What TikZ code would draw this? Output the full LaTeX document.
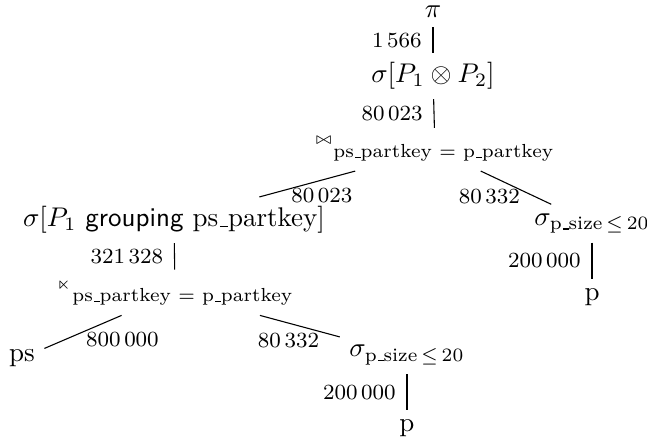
\documentclass[tikz,border=0pt]{standalone}
\usepackage{amsmath,amssymb}
\usepackage{tikz}
\usetikzlibrary{positioning,calc}
\newcommand{\usc}{\kern.06em\vbox{\hrule width.3em}}
\tikzset{
    opnode/.style={inner sep=.3333em},
    treeedge/.style={thin, color=black},
    card/.style={font=\footnotesize, inner sep=1pt},
}

\begin{document}
\begin{tikzpicture}[x=0.37pt, y=-0.37pt]
    \useasboundingbox (0,0) rectangle (647,442);
    % Nodes
    \node[opnode] (proj) at (433,12) {$\pi$};
    \node[opnode] (selP) at (433,76) {$\sigma[P_1 \otimes P_2]$};
    \node[opnode] (join) at (435,149.5) {${}^{\scriptscriptstyle\bowtie}{}_{\text{ps\usc partkey = p\usc partkey}}$};
    \node[opnode] (group) at (174,220) {$\sigma[P_1\ \textsf{grouping}\ \text{ps\usc partkey}]$};
    \node[opnode] (selR) at (592,223.5) {$\sigma_{\text{p\usc size}\,\leq\,20}$};
    \node[opnode] (partR) at (592,297) {p};
    \node[opnode] (semi) at (175,292.5) {${}^{\scriptscriptstyle\ltimes}{}_{\text{ps\usc partkey = p\usc partkey}}$};
    \node[opnode] (psupp) at (22,358) {ps};
    \node[opnode] (selB) at (407,355) {$\sigma_{\text{p\usc size}\,\leq\,20}$};
    \node[opnode] (partB) at (407,428) {p};

    % Edges
    \draw[treeedge] (proj) -- node[card, left=3pt] {1\,566} (selP);
    \draw[treeedge] (selP) -- node[card, left=3pt] {80\,023} (join);
    \draw[treeedge] (join) -- node[card, below right, pos=0.7, yshift=1.5pt] {80\,023} (group);
    \draw[treeedge] (join) -- node[card, below left, pos=0.6, yshift=1.8pt] {80\,332} (selR);
    \draw[treeedge] (selR) -- node[card, left=3pt] {200\,000} (partR);
    \draw[treeedge] (group) -- node[card, left=3pt] {321\,328} (semi);
    \draw[treeedge] (semi) -- node[card, below right, yshift=1pt] {800\,000} (psupp);
    \draw[treeedge] (semi) -- node[card, below left, pos=0.78, yshift=0.8pt] {80\,332} (selB);
    \draw[treeedge] (selB) -- node[card, left=3pt] {200\,000} (partB);
\end{tikzpicture}
\end{document}
